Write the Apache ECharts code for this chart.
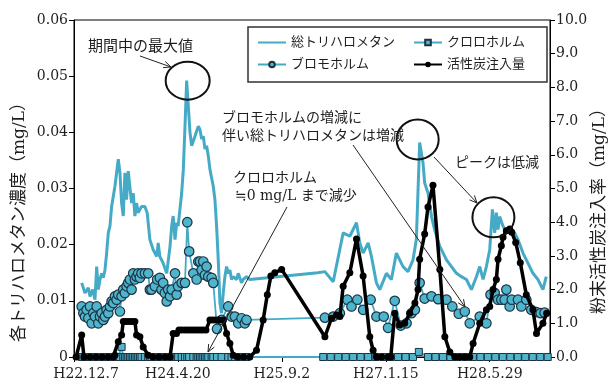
<!DOCTYPE html>
<html>
<head>
<meta charset="utf-8">
<script src="https://cdn.jsdelivr.net/npm/echarts@6/dist/echarts.min.js"></script>
<style>
  html, body { margin: 0; padding: 0; background: #fff; }
  #chart { width: 612px; height: 383px; }
</style>
</head>
<body>
<div id="chart"></div>
<script>
// x values: days elapsed since H22.12.7 (2010-12-07); ticks every 500 days
const tickLabels = ['H22.12.7', 'H24.4.20', 'H25.9.2', 'H27.1.15', 'H28.5.29'];

// 総トリハロメタン (mg/L)
const thmDays = [37, 53, 69, 77, 90, 101, 109, 117, 125, 133, 141, 149, 157, 165, 173, 181, 197, 213, 221, 229,
  237, 245, 253, 261, 269, 277, 285, 293, 301, 309, 325, 341, 352, 365, 381, 398, 405, 413, 429, 446,
  462, 470, 477, 486, 494, 501, 518, 526, 534, 542, 558, 566, 582, 598, 606, 614, 622, 630, 638, 646,
  654, 670, 678, 686, 694, 702, 710, 718, 726, 734, 742, 750, 758, 766, 782, 790, 806, 814, 830, 846,
  1173, 1207, 1247, 1295, 1327, 1359, 1375, 1391, 1415, 1431, 1455, 1471, 1503, 1527, 1551, 1567, 1583, 1607, 1631, 1647,
  1663, 1679, 1687, 1703, 1720, 1736, 1760, 1792, 1816, 1840, 1864, 1888, 1912, 1936, 1952, 1968, 1984, 2000, 2013, 2024,
  2032, 2040, 2048, 2064, 2080, 2096, 2120, 2136, 2160, 2184, 2208, 2232, 2256, 2272];
const thmValues = [0.0132, 0.0114, 0.0123, 0.0108, 0.0120, 0.0102, 0.0161, 0.0120, 0.0138, 0.0149, 0.0141, 0.0155, 0.0185, 0.0221, 0.0233, 0.0268, 0.0304, 0.0352, 0.0328, 0.0274,
  0.0251, 0.0328, 0.0280, 0.0331, 0.0328, 0.0274, 0.0292, 0.0251, 0.0274, 0.0257, 0.0268, 0.0268, 0.0257, 0.0209, 0.0191, 0.0179, 0.0203, 0.0179, 0.0167, 0.0149,
  0.0197, 0.0233, 0.0251, 0.0209, 0.0239, 0.0233, 0.0292, 0.0334, 0.0411, 0.0492, 0.0400, 0.0376, 0.0393, 0.0411, 0.0405, 0.0388, 0.0393, 0.0370, 0.0376, 0.0358,
  0.0334, 0.0304, 0.0280, 0.0233, 0.0173, 0.0096, 0.0078, 0.0114, 0.0143, 0.0161, 0.0149, 0.0155, 0.0138, 0.0143, 0.0138, 0.0149, 0.0132, 0.0138, 0.0143, 0.0138,
  0.0150, 0.0152, 0.0134, 0.0221, 0.0215, 0.0239, 0.0203, 0.0185, 0.0203, 0.0179, 0.0132, 0.0120, 0.0149, 0.0138, 0.0185, 0.0173, 0.0161, 0.0152, 0.0173, 0.0209,
  0.0382, 0.0346, 0.0310, 0.0292, 0.0250, 0.0225, 0.0197, 0.0173, 0.0161, 0.0149, 0.0143, 0.0138, 0.0120, 0.0143, 0.0161, 0.0138, 0.0161, 0.0191, 0.0263, 0.0221,
  0.0257, 0.0227, 0.0250, 0.0233, 0.0221, 0.0227, 0.0221, 0.0209, 0.0185, 0.0167, 0.0149, 0.0138, 0.0120, 0.0143];

// ブロモホルム (mg/L)
const bromoDays = [37, 45, 53, 61, 69, 77, 85, 93, 101, 109, 117, 125, 133, 141, 149, 157, 165, 173, 181, 189,
  197, 205, 213, 221, 229, 237, 245, 253, 261, 269, 277, 285, 293, 301, 309, 317, 325, 341, 357, 365,
  373, 389, 400, 413, 421, 429, 437, 446, 453, 462, 470, 486, 494, 501, 518, 534, 545, 554, 574, 590,
  598, 606, 614, 622, 630, 638, 646, 662, 670, 688, 710, 742, 758, 774, 790, 806, 822, 830,
  1207, 1247, 1279, 1315, 1335, 1363, 1391, 1427, 1455, 1490, 1511, 1543, 1572, 1600, 1624, 1640, 1663, 1687, 1720, 1752,
  1792, 1820, 1851, 1880, 1904, 1952, 1984, 2004, 2024, 2040, 2056, 2072, 2080, 2096, 2106, 2136, 2152, 2176, 2200, 2225,
  2245, 2264];
const bromoValues = [0.0090, 0.0078, 0.0072, 0.0084, 0.0069, 0.0090, 0.0060, 0.0078, 0.0072, 0.0090, 0.0060, 0.0072, 0.0078, 0.0066, 0.0072, 0.0084, 0.0078, 0.0090, 0.0099, 0.0096,
  0.0108, 0.0102, 0.0111, 0.0081, 0.0108, 0.0120, 0.0114, 0.0126, 0.0132, 0.0138, 0.0120, 0.0149, 0.0138, 0.0143, 0.0149, 0.0141, 0.0149, 0.0149, 0.0149, 0.0120,
  0.0120, 0.0126, 0.0138, 0.0141, 0.0120, 0.0132, 0.0114, 0.0099, 0.0120, 0.0108, 0.0120, 0.0149, 0.0111, 0.0126, 0.0132, 0.0132, 0.0240, 0.0188, 0.0149, 0.0138,
  0.0170, 0.0170, 0.0155, 0.0170, 0.0146, 0.0161, 0.0143, 0.0141, 0.0132, 0.0050, 0.0066, 0.0090, 0.0072, 0.0072, 0.0060, 0.0069, 0.0060, 0.0066,
  0.0070, 0.0072, 0.0078, 0.0102, 0.0090, 0.0102, 0.0084, 0.0102, 0.0072, 0.0072, 0.0052, 0.0100, 0.0056, 0.0060, 0.0078, 0.0084, 0.0132, 0.0104, 0.0108, 0.0103,
  0.0102, 0.0090, 0.0077, 0.0081, 0.0060, 0.0072, 0.0060, 0.0111, 0.0114, 0.0102, 0.0102, 0.0102, 0.0120, 0.0090, 0.0102, 0.0102, 0.0090, 0.0102, 0.0084, 0.0080,
  0.0078, 0.0079];

// クロロホルム (mg/L)
const chloroDays = [37, 45, 53, 61, 69, 77, 85, 93, 101, 109, 117, 125, 133, 141, 149, 157, 165, 173, 181, 189,
  197, 205, 213, 221, 229, 237, 245, 253, 261, 269, 277, 285, 293, 301, 309, 317, 325, 341, 357, 365,
  373, 389, 400, 413, 421, 429, 437, 446, 453, 462, 470, 486, 494, 501, 518, 534, 545, 554, 574, 590,
  598, 606, 614, 622, 630, 638, 646, 662, 670, 688, 710, 742, 758, 774, 790, 806, 822, 830,
  1199, 1235, 1271, 1307, 1343, 1379, 1415, 1451, 1487, 1523, 1559, 1595, 1631, 1659, 1703, 1739, 1775, 1811, 1847, 1883,
  1919, 1955, 1991, 2027, 2063, 2099, 2135, 2171, 2207, 2243, 2279];
const chloroValues = [0, 0, 0, 0, 0, 0, 0, 0, 0, 0, 0, 0, 0, 0, 0, 0, 0, 0, 0, 0,
  0, 0, 0, 0, 0.0018, 0, 0, 0, 0, 0, 0, 0, 0, 0, 0, 0, 0, 0, 0, 0,
  0, 0, 0, 0, 0, 0, 0, 0, 0, 0, 0, 0, 0, 0, 0, 0, 0, 0, 0, 0,
  0, 0, 0, 0, 0, 0, 0, 0, 0, 0, 0, 0, 0, 0, 0, 0, 0, 0,
  0, 0, 0, 0, 0, 0, 0, 0, 0, 0, 0, 0, 0, 0.0009, 0, 0, 0, 0, 0, 0,
  0, 0, 0, 0, 0, 0, 0, 0, 0, 0, 0];

// 活性炭注入量 (mg/L, right axis)
const carbonDays = [10, 37, 48, 77, 106, 135, 163, 188, 197, 213, 229, 237, 250, 264, 279, 293, 301, 317, 333, 357,
  380, 409, 438, 462, 477, 493, 505, 519, 534, 548, 563, 577, 591, 606, 620, 635, 654, 668, 683, 697,
  718, 734, 750, 766, 789, 817, 846, 878, 910, 930, 947, 966, 999,
  1207, 1239, 1263, 1279, 1295, 1327, 1359, 1391, 1423, 1439, 1455, 1481, 1510, 1524, 1543, 1567, 1591, 1615, 1640,
  1655, 1663, 1687, 1703, 1727, 1760, 1784, 1808, 1832, 1856, 1880, 1904, 1920, 1952, 1984, 2000, 2016, 2032,
  2040, 2056, 2064, 2080, 2096, 2106, 2125, 2147, 2176, 2208, 2225, 2256, 2274];
const carbonValues = [0, 0.65, 0, 0, 0, 0, 0, 0, 0.05, 0.45, 0.65, 1.05, 1.05, 1.05, 1.05, 1.05, 0.65, 0.6, 0.3, 0.05,
  0, 0, 0, 0, 0.7, 0.7, 0.8, 0.8, 0.8, 0.8, 0.8, 0.8, 0.8, 0.8, 0.8, 0.8, 1.1, 1.1, 1.1, 1.1,
  1.1, 0.7, 0.4, 0.05, 0, 0, 0, 0.2, 1.1, 1.85, 2.4, 2.5, 2.6,
  0.6, 1.15, 1.25, 1.2, 2.1, 2.5, 3.5, 2.4, 0.6, 0.2, 0, 0, 0, 0, 1.3, 0.95, 1.0, 1.3, 1.6,
  2.0, 2.9, 3.65, 4.45, 5.1, 2.6, 0.6, 0.15, 0, 0, 0, 0, 0.4, 1.0, 1.4, 1.5, 2.0, 2.3,
  2.9, 3.3, 3.55, 3.75, 3.8, 3.7, 3.4, 2.8, 1.85, 1.4, 0.7, 1.0, 1.3];

const zip = (xs, ys) => xs.map((x, i) => [x, ys[i]]);

const TEAL = '#45aac6';
const TEAL_FILL = '#4fb5cd';
const EDGE = '#1b3342';
const SERIF = "'DejaVu Serif', 'Noto Sans CJK JP', serif";
const TEXT = '#1e1e1e';

const chart = echarts.init(document.getElementById('chart'), null, { renderer: 'canvas' });

const legendCommon = {
  orient: 'vertical', top: 36, itemWidth: 28, itemHeight: 7, itemGap: 9, padding: 0,
  textStyle: { fontSize: 13, fontFamily: SERIF, color: TEXT }, z: 6, selectedMode: false
};

chart.setOption({
  animation: false,
  backgroundColor: '#fff',
  grid: { left: 74, right: 62, top: 20, bottom: 26, show: true, borderColor: '#000', borderWidth: 1, backgroundColor: 'transparent' },
  legend: [
    Object.assign({ data: [{ name: '総トリハロメタン', itemStyle: { opacity: 0 } }, 'ブロモホルム'], left: 257 }, legendCommon),
    Object.assign({ data: ['クロロホルム', '活性炭注入量'], left: 413 }, legendCommon)
  ],
  xAxis: {
    type: 'value', min: 0, max: 2290, interval: 500,
    axisLine: { lineStyle: { color: '#000', width: 1 } },
    axisTick: { show: true, length: 5, lineStyle: { color: '#000' } },
    splitLine: { show: false },
    axisLabel: {
      showMinLabel: true, showMaxLabel: false, margin: 10,
      fontFamily: SERIF, fontSize: 14, color: TEXT,
      formatter: v => {
        const t = (v % 500 === 0) ? tickLabels[v / 500] : '';
        if (!t) return '';
        return v === 0 ? '{first|' + t + '}' : t;
      },
      rich: { first: { fontFamily: SERIF, fontSize: 14, color: TEXT, padding: [0, 0, 0, 24] } }
    }
  },
  yAxis: [
    {
      type: 'value', min: 0, max: 0.06, interval: 0.01, position: 'left',
      axisLine: { show: true, lineStyle: { color: '#000' } },
      axisTick: { show: true, length: 5, lineStyle: { color: '#000' } },
      splitLine: { show: false },
      axisLabel: { fontFamily: SERIF, fontSize: 14, color: TEXT, margin: 6,
        formatter: v => v === 0 ? '0' : v.toFixed(2) }
    },
    {
      type: 'value', min: 0, max: 10, interval: 1, position: 'right',
      axisLine: { show: true, lineStyle: { color: '#000' } },
      axisTick: { show: true, length: 5, lineStyle: { color: '#000' } },
      splitLine: { show: false },
      axisLabel: { fontFamily: SERIF, fontSize: 14, color: TEXT, margin: 6,
        formatter: v => v.toFixed(1) }
    }
  ],
  series: [
    {
      name: '総トリハロメタン', type: 'line', yAxisIndex: 0, data: zip(thmDays, thmValues),
      symbol: 'none', showSymbol: false,
      lineStyle: { color: TEAL, width: 3 }, itemStyle: { color: TEAL }, z: 2
    },
    {
      name: 'ブロモホルム', type: 'line', yAxisIndex: 0, data: zip(bromoDays, bromoValues),
      symbol: 'circle', symbolSize: 9.5, showAllSymbol: true,
      lineStyle: { color: TEAL, width: 1.8 },
      itemStyle: { color: TEAL_FILL, borderColor: EDGE, borderWidth: 1.2 }, z: 3
    },
    {
      name: 'クロロホルム', type: 'line', yAxisIndex: 0, data: zip(chloroDays, chloroValues),
      symbol: 'rect', symbolSize: 7, showAllSymbol: true,
      lineStyle: { color: TEAL, width: 2 },
      itemStyle: { color: TEAL_FILL, borderColor: EDGE, borderWidth: 1 }, z: 4
    },
    {
      name: '活性炭注入量', type: 'line', yAxisIndex: 1, data: zip(carbonDays, carbonValues),
      symbol: 'circle', symbolSize: 7, showAllSymbol: true,
      lineStyle: { color: '#000', width: 3.5 },
      itemStyle: { color: '#000' }, z: 5
    }
  ]
});

// ---- annotations: circles around THM peaks, arrows, notes, axis titles ----
function arrow(x1, y1, x2, y2) {
  const a = Math.atan2(y2 - y1, x2 - x1), L = 8, w = 0.42;
  const p1 = [x2 - L * Math.cos(a - w), y2 - L * Math.sin(a - w)];
  const p2 = [x2 - L * Math.cos(a + w), y2 - L * Math.sin(a + w)];
  return [
    { type: 'line', shape: { x1, y1, x2, y2 }, style: { stroke: '#222', lineWidth: 1 }, z: 7 },
    { type: 'polyline', shape: { points: [p1, [x2, y2], p2] }, style: { stroke: '#222', lineWidth: 1, fill: null }, z: 7 }
  ];
}
function ring(day, val, dx, dy, rx, ry) {
  const p = chart.convertToPixel({ xAxisIndex: 0, yAxisIndex: 0 }, [day, val]);
  return { type: 'ellipse', shape: { cx: p[0] + dx, cy: p[1] + dy, rx, ry },
    style: { stroke: '#111', lineWidth: 2, fill: null }, z: 7 };
}
function note(text, x, y, size) {
  return { type: 'text', x, y, z: 7,
    style: { text, fontSize: size || 14, fontFamily: SERIF, fill: TEXT, verticalAlign: 'middle', align: 'left' } };
}
function vtitle(text, x, y) {
  return { type: 'text', x, y, rotation: Math.PI / 2, z: 7,
    style: { text, fontSize: 17, fontFamily: SERIF, fill: TEXT, align: 'center', verticalAlign: 'middle' } };
}

const peakA = thmValues.indexOf(Math.max(...thmValues));
const graphics = [
  { type: 'rect', shape: { x: 248, y: 27, width: 299, height: 55 },
    style: { fill: '#fff', stroke: '#333', lineWidth: 1.5 }, z: 5 },
  ring(thmDays[peakA], thmValues[peakA], 1, 0, 22, 19),
  ring(1663, 0.0382, -2, -3, 21, 20),
  ring(2013, 0.0263, 1, 8, 21, 20),
  note('期間中の最大値', 88, 47, 15),
  note('ブロモホルムの増減に', 222, 118),
  note('伴い総トリハロメタンは増減', 222, 136),
  note('ピークは低減', 455, 163),
  note('クロロホルム', 233, 178),
  note('≒0 mg/L まで減少', 235, 196),
  vtitle('各トリハロメタン濃度（mg/L）', 20, 218),
  vtitle('粉末活性炭注入率（mg/L）', 600, 207)
].concat(
  arrow(140, 56, 171, 67),
  arrow(353, 145, 465, 307),
  arrow(434, 157, 477, 203),
  arrow(287, 207, 208, 352)
);
chart.setOption({ graphic: graphics });
</script>
</body>
</html>
